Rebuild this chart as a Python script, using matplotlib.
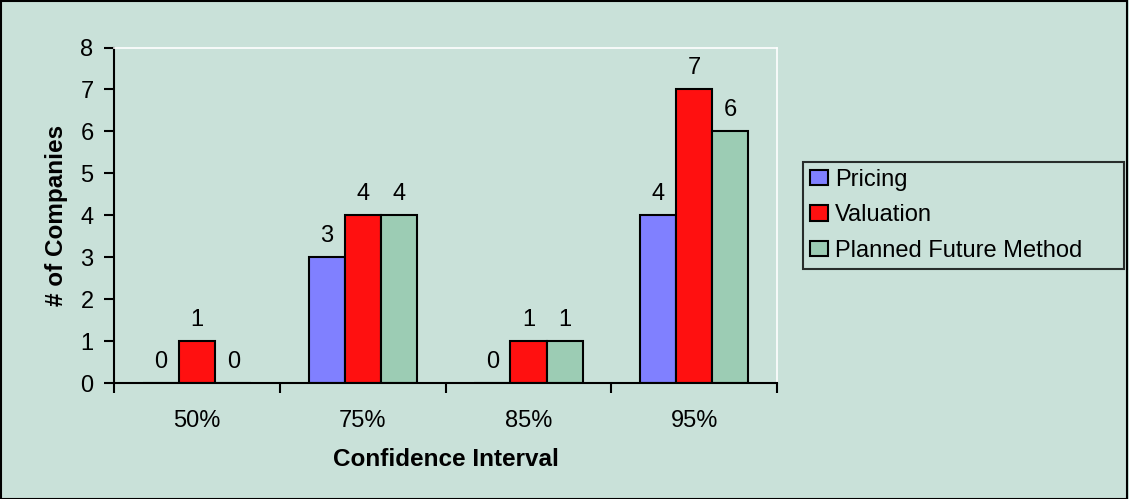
import matplotlib.pyplot as plt
import numpy as np

plt.rcParams['font.family'] = ['Liberation Sans', 'DejaVu Sans']

categories = ["50%", "75%", "85%", "95%"]
series_names = ["Pricing", "Valuation", "Planned Future Method"]
pricing = [0, 3, 0, 4]
valuation = [1, 4, 1, 7]
planned = [0, 4, 1, 6]
colors = ["#8080FF", "#FF1010", "#9CCCB4"]
bg = "#C9E1D9"
fs = 17

fig = plt.figure(figsize=(11.29, 4.99), dpi=100, facecolor=bg)
ax = fig.add_axes([0.1013, 0.2318, 0.5869, 0.673])
ax.set_facecolor(bg)

x = np.arange(len(categories))
w = 0.218
for i, (vals, c, name) in enumerate(zip([pricing, valuation, planned], colors, series_names)):
    pos = x + (i - 1) * w
    ax.bar(pos, vals, width=w, color=c, edgecolor="black", linewidth=1.5, label=name)
    for px, v in zip(pos, vals):
        ax.annotate(str(v), xy=(px, v), xytext=(0, 15), textcoords="offset pixels",
                    ha="center", va="baseline", fontsize=fs)

ax.set_xlim(-0.5, len(categories) - 0.5)
ax.set_ylim(0, 8)
ax.set_yticks(range(0, 9))
ax.set_xticks(x)
ax.set_xticklabels(categories, fontsize=fs)
ax.set_xticks(np.arange(-0.5, len(categories)), minor=True)
ax.tick_params(axis="x", which="major", length=0, pad=19)
ax.tick_params(axis="x", which="minor", length=7, width=1.5, direction="out")
ax.tick_params(axis="y", length=7, width=1.5, labelsize=fs, pad=8)

for s in ["left", "bottom"]:
    ax.spines[s].set_linewidth(1.5)
    ax.spines[s].set_color("black")
for s in ["top", "right"]:
    ax.spines[s].set_linewidth(1.2)
    ax.spines[s].set_color("white")

ax.set_xlabel("Confidence Interval", fontsize=17.5, fontweight="bold", labelpad=12)
ax.set_ylabel("# of Companies", fontsize=17.5, fontweight="bold", labelpad=9)

# legend stretched to the box width seen in the original
leg = fig.legend(loc="upper left", bbox_to_anchor=(0.711, 0.476, 0.285, 0.2), mode="expand",
                 fontsize=fs, frameon=True, fancybox=False, facecolor=bg, edgecolor="black",
                 handlelength=0.78, handleheight=0.62, handletextpad=0.3,
                 borderpad=0.3, labelspacing=0.58, borderaxespad=0)
leg.get_frame().set_linewidth(1.5)

# outer border
fig.patches.append(plt.Rectangle((0.0005, 0.001), 0.998, 0.997, transform=fig.transFigure,
                                 fill=False, edgecolor="black", linewidth=1.5))

fig.savefig("out.png", dpi=100, facecolor=bg)
